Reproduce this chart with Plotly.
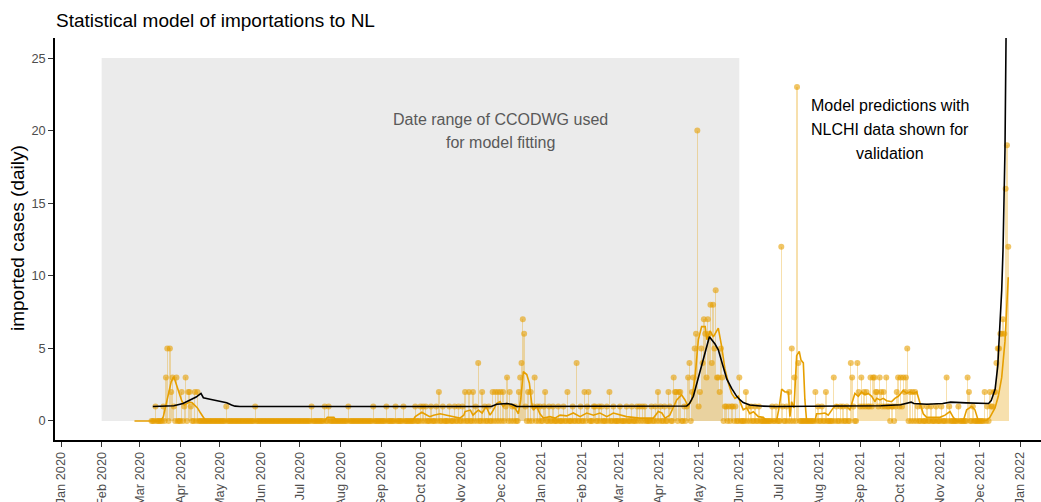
import numpy as np
import pandas as pd
import plotly.graph_objects as go

# ---------------- data (all day numbers are days since BASE_DATE) ----------------
BASE_DATE = "2020-01-01"

# observed daily imported cases (dots + stems); days in range that are not listed are 0
OBS_FIRST_DAY = 69     # 2020-03-10
OBS_LAST_DAY = 722     # 2021-12-23
ONE_CASE_DAYS = [
    72, 78, 86, 94, 99, 126, 148, 191, 201, 204, 219, 238, 248, 255, 261, 270, 274, 276,
    278, 282, 286, 291, 296, 300, 303, 306, 316, 323, 326, 339, 344, 346, 354, 360, 363,
    365, 368, 372, 375, 379, 383, 390, 396, 401, 406, 407, 410, 412, 416, 421, 426, 431,
    435, 439, 441, 443, 445, 450, 453, 457, 460, 464, 475, 477, 486, 506, 507, 509, 511,
    512, 514, 524, 526, 529, 532, 542, 545, 550, 553, 577, 580, 591, 594, 596, 599, 604,
    609, 611, 613, 615, 616, 618, 623, 626, 628, 630, 631, 633, 634, 636, 639, 641, 653,
    656, 660, 663, 667, 671, 677, 684, 695, 706, 709, 710,
]
MULTI_CASE_DAYS = [
    80, 81, 83, 84, 85, 88, 92, 95, 97, 98, 102, 104,
    288, 308, 311, 314, 318, 321, 329, 331, 333, 335, 337, 340, 342, 349, 350, 351, 352,
    353, 356, 358, 361,
    369, 386, 393, 399, 402, 418, 455, 463, 467, 468, 469, 471, 472,
    478, 479, 481, 482, 483, 484, 485, 487, 488, 489, 490, 491, 492, 493, 494, 495, 496,
    497, 498, 499, 500, 501, 502, 503, 504,
    517, 522, 549, 555, 557, 559, 561, 562, 575, 583, 589, 602, 603, 607, 608, 610, 612,
    614, 617, 619, 620, 621, 622, 624, 625, 627, 629, 637, 638, 640, 642, 643, 644, 645,
    647, 649, 651, 675, 691, 692, 704, 708, 711, 712, 713, 714, 715, 716, 717, 718, 719,
    720, 721, 722,
]
MULTI_CASE_COUNTS = [
    3, 5, 5, 2, 3, 3, 2, 3, 2, 2, 2, 2,
    2, 2, 2, 2, 4, 2, 2, 2, 2, 2, 2, 3, 2, 2, 3, 4, 7,
    6, 2, 2, 3,
    2, 2, 4, 2, 2, 2, 2, 2, 3, 2, 2, 2, 2,
    3, 4, 2, 3, 5, 6, 20, 2, 5, 4, 7, 6, 3, 7, 6, 8, 4,
    8, 5, 9, 3, 3, 2, 5, 3,
    3, 2, 12, 2, 5, 3, 23, 4, 2, 2, 3, 4, 3, 4, 2, 3, 2,
    2, 3, 3, 3, 2, 2, 3, 2, 2, 3, 2, 3, 3, 3, 2, 3, 5,
    2, 2, 2, 3, 3, 2, 2, 2, 2, 2, 4, 5, 5, 6, 6, 7, 6,
    16, 19, 12,
]

# orange smoothed observed line
SMOOTH_DAYS = [
    56, 76, 78, 80, 82, 84, 86, 88, 90, 92, 94, 96, 98, 100, 102, 104, 106, 108, 110, 112,
    201, 203, 208, 210,
    268, 270, 273, 275, 278, 281, 284, 286,
    289, 294, 298, 304, 307, 308, 312, 314, 318, 321, 324, 327, 329.5, 332, 334.6, 337,
    339.7, 342, 346, 348.6, 350.4, 352.4, 355, 357, 358.8, 360, 362.6, 365, 367.7, 372.7,
    376.5, 380.4, 385.4, 390.5, 393, 395.6, 400.7, 405.8, 410.8, 416, 421, 426, 431, 436,
    441, 451.5, 455.3, 458, 460.4, 464, 466.7, 469.3, 473, 475.6, 478, 480.7, 483.3,
    485.8, 488.3, 491, 492.2, 494.7, 497.2, 501, 503.6, 506, 508.7, 511.2, 513.7, 516.3,
    517.5, 520, 522.6, 525, 527.7, 531.5, 535.3, 537.8, 545.4, 547.5, 549.3, 551.8,
    554.3, 555.6, 556.9, 558.7, 560.7, 562.7, 564, 565.8, 567, 568.3, 574.7, 575.9,
    578.5, 582.3, 584.8, 588.6, 591.2, 593.7, 598.8, 601.3, 605.1, 607.7, 610.2, 612.8,
    615.3, 617.9, 620.4, 621.7, 624.2, 626.7, 629.3, 633.1, 635.6, 638.2, 642, 644.5,
    647.1, 649.6, 652.2, 654.7, 657.2, 659.8, 670, 673.8, 677.6, 680.1, 682.6, 687.7,
    690.3, 694.1, 696.6, 699.2, 705.5, 708, 711.9, 714.4, 717, 719.5, 721, 722,
]
SMOOTH_VALUES = [
    0, 0, 0.3, 1.0, 1.9, 2.7, 3.05, 2.5, 1.9, 1.4, 1.1, 1.2, 1.3, 1.25, 1.1, 0.9, 0.6, 0.3, 0.05, 0,
    0, 0.25, 0.25, 0,
    0, 0.3, 0.5, 0.6, 0.45, 0.3, 0.4, 0.45,
    0.5, 0.4, 0.3, 0.2, 0.4, 0.65, 0.75, 0.4, 0.75, 0.55, 1.0, 0.4, 0.75, 1.2, 1.33, 1.0,
    1.2, 1.1, 0.9, 0.5, 1.45, 3.4, 3.2, 2.6, 1.2, 0.75, 1.0, 0.5, 0.2, 0.3,
    0.2, 0.4, 0.35, 0.55, 0.4, 0.3, 0.55, 0.4, 0.55, 0.3, 0.55, 0.4, 0.3, 0.25,
    0.2, 0.2, 0.65, 0.55, 0.2, 0.4, 1.0, 1.45, 1.8, 1.45, 1.0, 1.45, 3.05,
    5.6, 6.5, 6.5, 5.6, 6.2, 5.8, 6.4, 5.1, 3.6, 2.6, 1.9, 1.55, 1.7,
    1.33, 0.77, 0.9, 0.5, 0.64, 0.3, 0.25, 0, 0, 1.0, 2.2, 2.0,
    2.0, 0.3, 1.33, 0.9, 4.5, 4.8, 4.2, 4.0, 1.45, 0, 0, 0.5,
    0.5, 0.55, 0.4, 0.9, 1.1, 1.0, 1.0, 0.77, 1.9, 1.7, 2.0, 1.8,
    1.9, 1.7, 1.33, 1.56, 1.45, 1.56, 1.4, 1.33, 1.56, 1.7, 2.1, 1.9,
    2.0, 1.9, 2.0, 1.33, 0.5, 0.25, 0.25, 0.4, 0.65, 0.25, 0, 0,
    0.77, 1.0, 0.77, 0, 0.05, 0.25, 0.9, 1.7, 3.0, 5.5, 8.1, 9.9,
]

# black model prediction line
MODEL_DAYS = [
    70, 80, 86, 93, 98, 103, 106.7, 108.5, 113.6, 118.6, 122, 126.3, 130, 132.6, 136.4,
    328, 332, 336, 340, 343.5, 347.3, 476.9, 479, 482, 487, 490.9, 494.2, 496, 498.5,
    501, 503.6, 507.4, 511.2, 515, 517.6, 520, 525, 533, 545, 616, 625, 640, 645, 648,
    650, 660, 672, 678, 690, 700, 707, 709, 712, 714, 715.7, 717, 718, 719.5, 720.3, 721,
]
MODEL_VALUES = [
    1.0, 1.02, 1.05, 1.2, 1.4, 1.65, 1.9, 1.6, 1.5, 1.4, 1.35, 1.25, 1.1, 1.02, 1.0,
    1.0, 1.15, 1.2, 1.2, 1.15, 1.0, 1.03, 1.2, 1.7, 3.3, 4.7, 5.8, 5.6, 5.3,
    4.9, 4.1, 2.9, 2.25, 1.7, 1.45, 1.27, 1.1, 1.03, 1.0, 1.0, 1.05, 1.12, 1.2, 1.3,
    1.2, 1.15, 1.2, 1.3, 1.25, 1.2, 1.2, 1.4, 2.2, 3.8, 6.3, 9.0, 11.8, 18.7, 26.3, 32.0,
]

FIT_START = "2020-02-01"
FIT_END = "2021-06-01"
FIT_TOP = 25

TITLE = "Statistical model of importations to NL"
Y_TITLE = "imported cases (daily)"
FIT_LABEL = ["Date range of CCODWG used", "for model fitting"]
VALID_LABEL = ["Model predictions with", "NLCHI data shown for", "validation"]

# ---------------- build ----------------
base = pd.Timestamp(BASE_DATE)


def to_dates(days):
    return base + pd.to_timedelta(np.asarray(days, dtype=float), unit="D")


obs_days = np.arange(OBS_FIRST_DAY, OBS_LAST_DAY + 1)
counts = pd.Series(0, index=obs_days)
counts.loc[ONE_CASE_DAYS] = 1
counts.loc[MULTI_CASE_DAYS] = MULTI_CASE_COUNTS
obs_dates = to_dates(obs_days)

ORANGE = "#E69F00"
FONT = "Liberation Sans, Arial, Helvetica, sans-serif"

fig = go.Figure()

fig.add_trace(go.Bar(
    x=obs_dates, y=counts.values, width=86400000,
    marker=dict(color="rgba(230,159,0,0.32)", line=dict(width=0)),
    hoverinfo="skip", showlegend=False,
))
fig.add_trace(go.Scatter(
    x=obs_dates, y=counts.values, mode="markers",
    marker=dict(color="rgba(230,159,0,0.6)", size=6, line=dict(width=0)),
    showlegend=False,
))
fig.add_trace(go.Scatter(
    x=to_dates(SMOOTH_DAYS), y=SMOOTH_VALUES, mode="lines",
    line=dict(color=ORANGE, width=1.6), showlegend=False,
))
fig.add_trace(go.Scatter(
    x=to_dates(MODEL_DAYS), y=MODEL_VALUES, mode="lines",
    line=dict(color="black", width=1.6), showlegend=False,
))

fig.add_shape(type="rect", xref="x", yref="y", x0=FIT_START, x1=FIT_END, y0=0, y1=FIT_TOP,
              fillcolor="#EBEBEB", line=dict(width=0), layer="below")

x_range = to_dates([-4.57, 746.95])

# annotation lines
fit_center = pd.Timestamp("2020-12-01")
for txt, yv in zip(FIT_LABEL, [20.8, 19.2]):
    fig.add_annotation(x=fit_center, y=yv, text=txt, showarrow=False,
                       font=dict(size=16, color="#595959", family=FONT),
                       xanchor="center", yanchor="middle")
valid_center = pd.Timestamp("2021-09-24")
for txt, yv in zip(VALID_LABEL, [21.76, 20.05, 18.4]):
    fig.add_annotation(x=valid_center, y=yv, text=txt, showarrow=False,
                       font=dict(size=16, color="black", family=FONT),
                       xanchor="center", yanchor="middle")

# y-axis title as rotated annotation
fig.add_annotation(xref="paper", yref="paper", x=-0.0375, y=0.5025, text=Y_TITLE,
                   textangle=-90, showarrow=False, xanchor="center", yanchor="middle",
                   font=dict(size=19, color="black", family=FONT))

fig.update_layout(
    width=1041, height=502,
    margin=dict(l=55, r=0, t=38, b=62),
    paper_bgcolor="white", plot_bgcolor="white",
    font=dict(family=FONT),
    bargap=0,
    title=dict(text=TITLE, x=56 / 1041, xref="container", xanchor="left",
               y=1 - 20 / 502, yref="container", yanchor="middle",
               font=dict(size=19, color="black", family=FONT)),
    xaxis=dict(
        type="date", range=list(x_range), tick0="2020-01-01", dtick="M1",
        tickformat="%b %Y", tickangle=-90, ticks="outside", ticklen=5, tickwidth=1,
        tickcolor="#333333", showline=True, linecolor="black", linewidth=1.5,
        showgrid=False, zeroline=False, automargin=False,
        tickfont=dict(size=12.8, color="#4D4D4D", family=FONT),
    ),
    yaxis=dict(
        range=[-1.31, 26.38], tickvals=[0, 5, 10, 15, 20, 25], ticks="outside",
        ticklen=5, tickwidth=1, tickcolor="#333333", showline=True, linecolor="black",
        linewidth=1.5, showgrid=False, zeroline=False, automargin=False,
        tickfont=dict(size=12.8, color="#4D4D4D", family=FONT),
    ),
)

fig.write_html(
    "out.html",
    config={"displayModeBar": False},
    post_script="document.body.style.margin='0';document.body.style.overflow='hidden';",
)
